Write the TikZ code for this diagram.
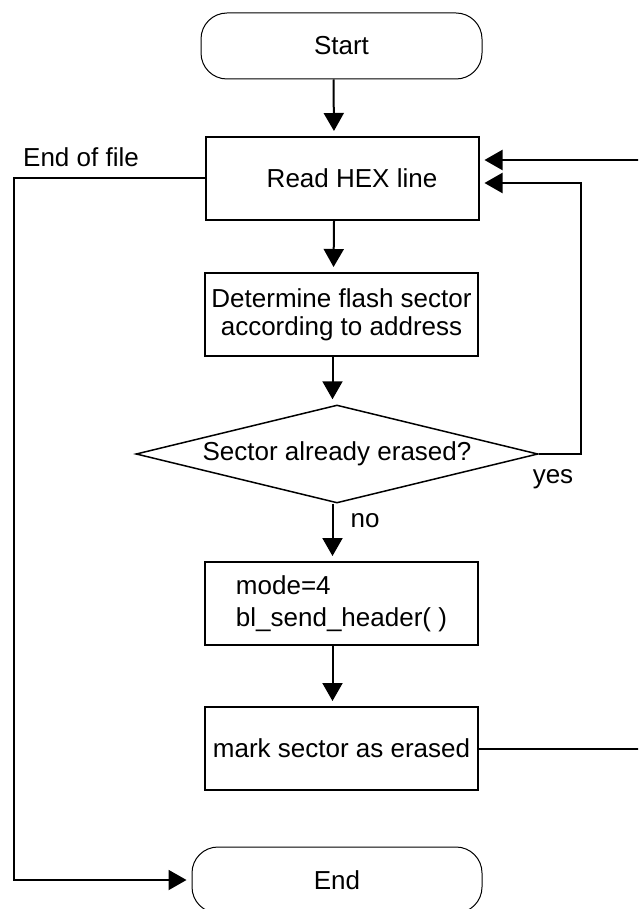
\documentclass[tikz,border=0pt]{standalone}
\usepackage{fontspec}
\setmainfont{Liberation Sans}
\usetikzlibrary{shapes.geometric, arrows.meta}

\begin{document}
\begin{tikzpicture}[x = 1pt, y = -1pt, line width = 2pt,
                    font = \fontsize{26}{29}\selectfont,
                    term/.style = {draw, line width = 1pt, rounded corners = 26pt, minimum width = 290pt, minimum height = 66pt, inner sep = 0pt},
                    box/.style = {draw, minimum width = 273pt, minimum height = 83pt, inner sep = 0pt, align = center},
                    ask/.style = {draw, diamond, aspect = 4.1, line width = 1.5pt, minimum width = 402pt, minimum height = 98pt, inner sep = 0pt},
                    arr/.style = {-{Triangle[length = 18pt, width = 20pt]}, shorten > = 5pt}]
      \useasboundingbox (0, 0) rectangle (638, 909);
      \clip (0, 0) rectangle (638, 909);
      \node [term, minimum width = 281pt] (start) at (341.5, 46) {Start};
      \node [box] (read) at (342, 178.5) {\hspace*{20pt}Read HEX line};
      \node [box, font = \fontsize{26}{28}\selectfont] (sect) at (341.5, 314.5) {Determine flash sector\\according to address};
      \node [ask] (dec) at (337, 454) {Sector already erased?};
      \node [box, font = \fontsize{26}{32}\selectfont, align = left] (mode) at (341.5, 603.5) {mode=4\\bl\_send\_header( )};
      \node [box] (mark) at (341.5, 748.5) {mark sector as erased};
      \node [term] (stop) at (337, 880) {End};
      \node [anchor = base] (eof) at (81, 167) {End of file};
      \node [anchor = base] (yes) at (553, 483) {yes};
      \node [anchor = base] (no) at (365, 527) {no};
      \draw [arr] ([xshift = -8pt]start.south) -- ([xshift = -8pt]read.north);
      \draw [arr] ([xshift = -8pt]read.south) -- ([xshift = -8pt]sect.north);
      \draw [arr] ([xshift = -9pt]sect.south) -- ([xshift = -9pt]sect.south |- dec.north);
      \draw [arr] ([xshift = -9pt]mode.north |- dec.south) -- ([xshift = -9pt]mode.north);
      \draw [arr] ([xshift = -9pt]mode.south) -- ([xshift = -9pt]mark.north);
      \draw [arr] (read.west) -- ++(-191, 0) |- (stop.west);
      \draw [arr] (dec.east) -- ++(42, 0) |- ([yshift = -4.5pt]read.east);
      \draw [arr] (mark.east) -- ++(172, 0) |- ([yshift = 18.5pt]read.east);
    \end{tikzpicture}
\end{document}
